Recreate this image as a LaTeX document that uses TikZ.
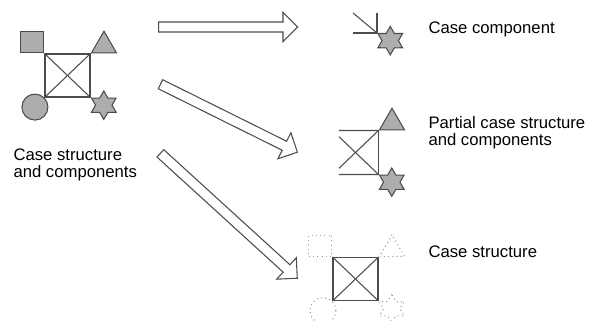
\documentclass[tikz,border=0pt]{standalone}
\usepackage{fontspec}
\setmainfont{Liberation Sans}
\usetikzlibrary{shapes.geometric,shapes.arrows,calc}
\definecolor{shapefill}{gray}{0.68}
\definecolor{edgegray}{gray}{0.3}
\definecolor{ghostgray}{gray}{0.6}

\begin{document}
\begin{tikzpicture}[x=0.02cm, y=-0.02cm, line width=0.6pt,
		casetext/.style={anchor=base west, align=left, inner sep=0pt, font=\fontsize{9.5}{9.6}\selectfont},
		case/.style={rectangle, draw=edgegray, minimum width=0.9cm, minimum height=0.86cm, inner sep=0pt},
		part/.style={draw=edgegray, fill=shapefill, inner sep=0pt},
		ghost/.style={draw=ghostgray, dash pattern=on 0.6pt off 1.8pt, inner sep=0pt},
		box/.style={rectangle, minimum width=0.46cm, minimum height=0.42cm, anchor=south east},
		tri/.style={regular polygon, regular polygon sides=3, minimum size=0.58cm, anchor=corner 2},
		ball/.style={circle, minimum size=0.52cm, anchor=north east},
		hexstar/.style={star, star points=6, star point ratio=1.73, minimum size=0.57cm, anchor=outer point 2},
		blockarrow/.style={single arrow, draw=edgegray, fill=white, inner xsep=0pt, inner ysep=0.09cm,
			single arrow head extend=0.19cm, anchor=tail}]
		\useasboundingbox (0,0) rectangle (589,321);

		% whole case
		\node[case] (cs) at (67.5,75.5) {};
		\draw[edgegray] (cs.north west) -- (cs.south east);
		\draw[edgegray] (cs.north east) -- (cs.south west);
		\node[part, box] (csq) at (cs.north west) {};
		\node[part, tri] (ctr) at (cs.north east) {};
		\node[part, ball] (cci) at (cs.south west) {};
		\node[part, hexstar] (cst) at (cs.south east) {};
		\node[casetext] (whole) at (13,177) {Case structure\\and components};

		% case component
		\node[part, hexstar] (kst) at (377,33) {};
		\coordinate (kl) at (353,33);
		\coordinate (ku) at (377,13);
		\coordinate (kd) at (353,13);
		\draw[edgegray] (kst.outer point 2) -- (kl);
		\draw[edgegray] (kst.outer point 2) -- (ku);
		\draw[edgegray] (kst.outer point 2) -- (kd);
		\node[casetext] (comp) at (428,33) {Case component};

		% partial case structure
		\node[case, draw=none] (ps) at (355.5,152.5) {};
		\draw[edgegray] (ps.north east) -- (ps.south east);
		\draw[edgegray] ($(ps.north east)!0.86!(ps.north west)$) -- (ps.north east);
		\draw[edgegray] ($(ps.south east)!0.86!(ps.south west)$) -- (ps.south east);
		\draw[edgegray] (ps.north east) -- ($(ps.north east)!0.86!(ps.south west)$);
		\draw[edgegray] (ps.south east) -- ($(ps.south east)!0.86!(ps.north west)$);
		\node[part, tri] (ptr) at (ps.north east) {};
		\node[part, hexstar] (pst) at (ps.south east) {};
		\node[casetext] (partial) at (428,145) {Partial case structure\\and components};

		% case structure
		\node[case] (fs) at (355.5,279) {};
		\draw[edgegray] (fs.north west) -- (fs.south east);
		\draw[edgegray] (fs.north east) -- (fs.south west);
		\node[ghost, box] (fsq) at (fs.north west) {};
		\node[ghost, tri] (ftr) at (fs.north east) {};
		\node[ghost, ball] (fci) at (fs.south west) {};
		\node[ghost, hexstar] (fst) at (fs.south east) {};
		\node[casetext] (struct) at (428,257) {Case structure};

		% arrows
		\coordinate (a1) at (158,27);
		\coordinate (b1) at (297,27);
		\coordinate (a2) at (160,84);
		\coordinate (b2) at (297,152);
		\coordinate (a3) at (160,153);
		\coordinate (b3) at (297,278);
		\foreach \s/\t/\arr in {a1/b1/arr1, a2/b2/arr2, a3/b3/arr3}
			\path let \p1=($(\t)-(\s)$), \n1={atan2(\y1,\x1)}, \n2={veclen(\x1,\y1)} in
				node[blockarrow, rotate=\n1, minimum height=\n2] (\arr) at (\s) {};
\end{tikzpicture}
\end{document}
